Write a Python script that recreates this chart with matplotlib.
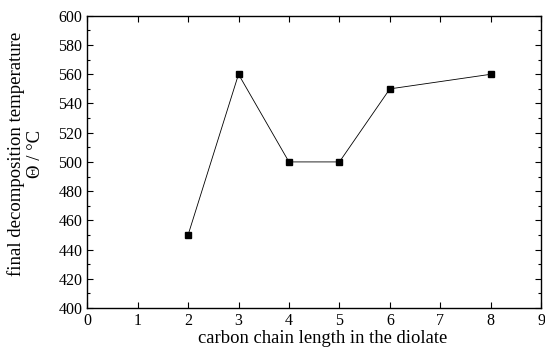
import matplotlib.pyplot as plt
from matplotlib.ticker import MultipleLocator

plt.rcParams['font.family'] = ['Liberation Serif', 'DejaVu Serif']

chain_length = [2, 3, 4, 5, 6, 8]
temperature = [450, 560, 500, 500, 550, 560]

fig = plt.figure(figsize=(5.45, 3.52), dpi=100)
ax = fig.add_axes([0.16, 0.125, 0.833, 0.83])

ax.plot(chain_length, temperature, color='black', linewidth=0.6,
        marker='s', markersize=5, markerfacecolor='black')

ax.set_xlim(0, 9)
ax.set_ylim(400, 600)
ax.xaxis.set_major_locator(MultipleLocator(1))
ax.yaxis.set_major_locator(MultipleLocator(20))
ax.yaxis.set_minor_locator(MultipleLocator(10))
ax.tick_params(which='both', direction='in', top=True, right=True,
               labelsize=11.5, width=0.8)
ax.tick_params(which='major', length=4)
ax.tick_params(which='minor', length=2)
for s in ax.spines.values():
    s.set_linewidth(1.0)

ax.set_xlabel('carbon chain length in the diolate', fontsize=13.4)
ax.xaxis.set_label_coords(0.518, -0.075)
ax.set_ylabel('final decomposition temperature\n\u0398 / \u00b0C', fontsize=13.5,
              linespacing=1.15)
ax.yaxis.set_label_coords(-0.095, 0.527)

fig.savefig('out.png', dpi=100)
